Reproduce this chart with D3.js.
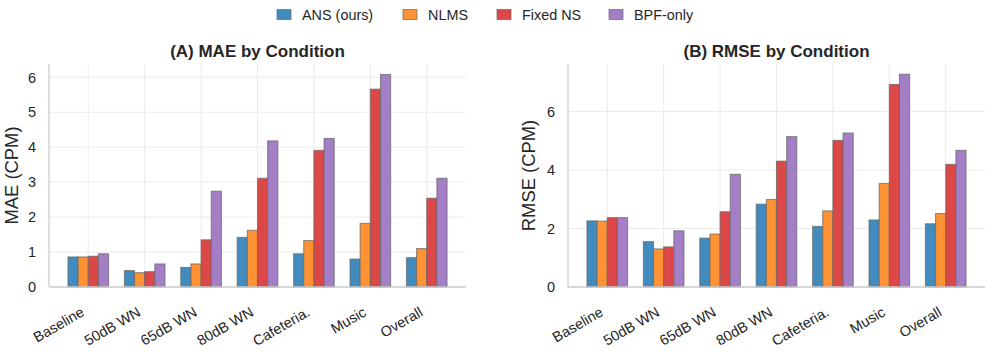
<!DOCTYPE html>
<html>
<head>
<meta charset="utf-8">
<script src="https://cdn.jsdelivr.net/npm/d3@7"></script>
<style>
  body { margin: 0; background: #fff; }
  svg { font-family: "Liberation Sans", Arial, sans-serif; }
</style>
</head>
<body>
<div id="chart"></div>
<script>
const categories = ["Baseline", "50dB WN", "65dB WN", "80dB WN", "Cafeteria.", "Music", "Overall"];
const methods = ["ANS (ours)", "NLMS", "Fixed NS", "BPF-only"];
const colors = ["#418bbf", "#ff9232", "#dc4748", "#a47ec7"];

// MAE values per method (same order as categories)
const maeANS   = [0.86, 0.47, 0.56, 1.42, 0.95, 0.80, 0.84];
const maeNLMS  = [0.86, 0.41, 0.66, 1.62, 1.33, 1.82, 1.10];
const maeFixed = [0.88, 0.44, 1.35, 3.11, 3.91, 5.66, 2.54];
const maeBPF   = [0.95, 0.66, 2.74, 4.18, 4.25, 6.08, 3.11];

// RMSE values per method
const rmseANS   = [2.26, 1.55, 1.67, 2.83, 2.07, 2.29, 2.16];
const rmseNLMS  = [2.25, 1.30, 1.81, 2.99, 2.60, 3.54, 2.51];
const rmseFixed = [2.37, 1.37, 2.57, 4.30, 5.01, 6.92, 4.19];
const rmseBPF   = [2.37, 1.92, 3.85, 5.14, 5.26, 7.27, 4.67];

const maeTicks = [0, 1, 2, 3, 4, 5, 6];
const rmseTicks = [0, 2, 4, 6];

const width = 987, height = 352;
const svg = d3.select("#chart").append("svg")
    .attr("width", width)
    .attr("height", height);

function drawPanel(opts) {
    const { left, right, title, ylabel, series, yMax, ticks, labelX } = opts;
    const top = 64, bottom = 287;
    const barW = 0.18;

    const x = d3.scaleLinear()
        .domain([-0.696, categories.length - 1 + 0.696])
        .range([left, right]);
    const y = d3.scaleLinear()
        .domain([0, yMax])
        .range([bottom, top]);

    const g = svg.append("g");

    // grid
    g.append("g").selectAll("line.h")
        .data(ticks)
        .join("line")
        .attr("x1", left).attr("x2", right)
        .attr("y1", d => y(d)).attr("y2", d => y(d))
        .attr("stroke", "#ebebeb").attr("stroke-width", 1);
    g.append("g").selectAll("line.v")
        .data(categories)
        .join("line")
        .attr("x1", (d, i) => x(i)).attr("x2", (d, i) => x(i))
        .attr("y1", top).attr("y2", bottom)
        .attr("stroke", "#ebebeb").attr("stroke-width", 1);

    // bars
    series.forEach((vals, s) => {
        g.append("g").selectAll("rect")
            .data(vals)
            .join("rect")
            .attr("x", (d, i) => x(i + (s - 1.5) * barW - barW / 2))
            .attr("width", x(barW) - x(0))
            .attr("y", d => y(d))
            .attr("height", d => y(0) - y(d))
            .attr("fill", colors[s])
            .attr("stroke", "#666")
            .attr("stroke-opacity", 0.7)
            .attr("stroke-width", 1.1);
    });

    // spines
    g.append("line")
        .attr("x1", left).attr("x2", left)
        .attr("y1", top).attr("y2", bottom)
        .attr("stroke", "#cccccc").attr("stroke-width", 1.3);
    g.append("line")
        .attr("x1", left).attr("x2", right)
        .attr("y1", bottom).attr("y2", bottom)
        .attr("stroke", "#cccccc").attr("stroke-width", 1.3);

    // y tick labels
    g.append("g").selectAll("text")
        .data(ticks)
        .join("text")
        .attr("x", left - 13)
        .attr("y", d => y(d))
        .attr("dy", "0.36em")
        .attr("text-anchor", "end")
        .attr("font-size", 14.5)
        .attr("fill", "#262626")
        .text(d => d);

    // x tick labels
    g.append("g").selectAll("text")
        .data(categories)
        .join("text")
        .attr("transform", (d, i) => `translate(${x(i) - 3},${bottom + 28}) rotate(-30)`)
        .attr("text-anchor", "end")
        .attr("font-size", 14.5)
        .attr("fill", "#262626")
        .text(d => d);

    // y label
    g.append("text")
        .attr("transform", `translate(${labelX},${(top + bottom) / 2}) rotate(-90)`)
        .attr("text-anchor", "middle")
        .attr("font-size", 18.4)
        .attr("fill", "#262626")
        .text(ylabel);

    // title
    g.append("text")
        .attr("x", (left + right) / 2)
        .attr("y", 57)
        .attr("text-anchor", "middle")
        .attr("font-size", 17)
        .attr("font-weight", "bold")
        .attr("fill", "#262626")
        .text(title);
}

drawPanel({
    left: 49, right: 466,
    title: "(A) MAE by Condition",
    ylabel: "MAE (CPM)",
    series: [maeANS, maeNLMS, maeFixed, maeBPF],
    yMax: 6.38, ticks: maeTicks, labelX: 18
});

drawPanel({
    left: 568, right: 985,
    title: "(B) RMSE by Condition",
    ylabel: "RMSE (CPM)",
    series: [rmseANS, rmseNLMS, rmseFixed, rmseBPF],
    yMax: 7.62, ticks: rmseTicks, labelX: 535
});

// legend
const legendX = [277, 403, 497, 609];
const legend = svg.append("g");
methods.forEach((m, i) => {
    legend.append("rect")
        .attr("x", legendX[i]).attr("y", 9.5)
        .attr("width", 14).attr("height", 10)
        .attr("fill", colors[i])
        .attr("stroke", "#666").attr("stroke-opacity", 0.7).attr("stroke-width", 1);
    legend.append("text")
        .attr("x", legendX[i] + 25).attr("y", 14.5)
        .attr("dy", "0.36em")
        .attr("font-size", 14.4)
        .attr("fill", "#262626")
        .text(m);
});
</script>
</body>
</html>
